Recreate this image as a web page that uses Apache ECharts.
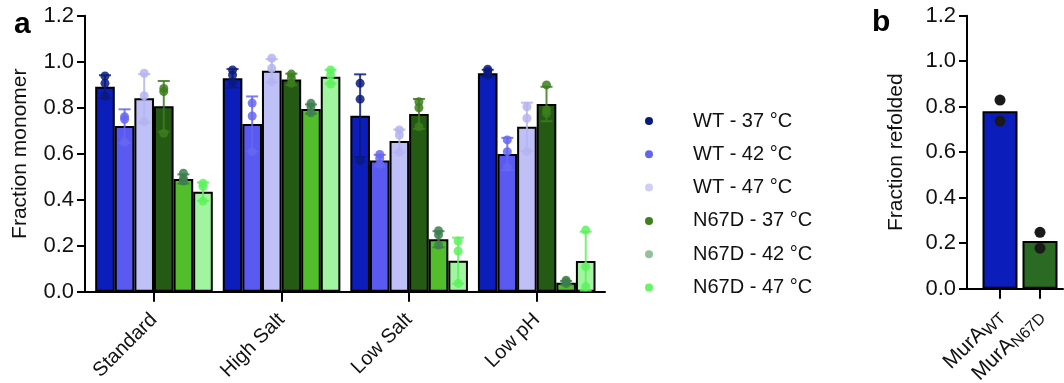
<!DOCTYPE html>
<html>
<head>
<meta charset="utf-8">
<script src="https://cdn.jsdelivr.net/npm/echarts@6/dist/echarts.min.js"></script>
<style>
  html, body { margin: 0; padding: 0; background: #fff; }
  #chart { width: 1064px; height: 383px; }
</style>
</head>
<body>
<div id="chart"></div>
<script>
// ---------------- Panel a data ----------------
const categoriesA = ['Standard', 'High Salt', 'Low Salt', 'Low pH'];
const seriesNames = ['WT - 37 °C', 'WT - 42 °C', 'WT - 47 °C', 'N67D - 37 °C', 'N67D - 42 °C', 'N67D - 47 °C'];
const yTicksA = [0, 0.2, 0.4, 0.6, 0.8, 1.0, 1.2];

// bar heights (mean fraction monomer)
const wt37Mean = [0.891, 0.928, 0.765, 0.950];
const wt42Mean = [0.720, 0.729, 0.570, 0.599];
const wt47Mean = [0.841, 0.961, 0.655, 0.717];
const n37Mean  = [0.806, 0.923, 0.773, 0.816];
const n42Mean  = [0.490, 0.794, 0.228, 0.039];
const n47Mean  = [0.435, 0.935, 0.135, 0.133];

// error bar half-lengths (SD)
const wt37Sd = [0.050, 0.040, 0.180, 0.015];
const wt42Sd = [0.073, 0.120, 0.025, 0.070];
const wt47Sd = [0.105, 0.050, 0.050, 0.105];
const n37Sd  = [0.110, 0.025, 0.065, 0.075];
const n42Sd  = [0.020, 0.020, 0.035, 0.008];
const n47Sd  = [0.040, 0.030, 0.100, 0.128];

// replicate points
const wt37Pts = [[0.938, 0.906, 0.851], [0.964, 0.942, 0.910], [0.906, 0.837, 0.570], [0.967, 0.957, 0.942]];
const wt42Pts = [[0.761, 0.750, 0.650], [0.820, 0.764, 0.609], [0.597, 0.580, 0.554], [0.660, 0.609, 0.541]];
const wt47Pts = [[0.950, 0.852, 0.739], [1.015, 0.971, 0.913], [0.703, 0.681, 0.606], [0.804, 0.754, 0.609]];
const n37Pts  = [[0.884, 0.870, 0.689], [0.946, 0.928, 0.906], [0.826, 0.800, 0.717], [0.899, 0.790, 0.776]];
const n42Pts  = [[0.515, 0.493, 0.481], [0.819, 0.804, 0.778], [0.265, 0.247, 0.203], [0.050, 0.043, 0.035]];
const n47Pts  = [[0.471, 0.457, 0.394], [0.964, 0.942, 0.903], [0.220, 0.177, 0.036], [0.268, 0.109, 0.022]];

// ---------------- Panel b data ----------------
const categoriesB = ['WT', 'N67D'];   // shown as MurA with subscript
const refoldMean = [0.780, 0.210];
const refoldPts = [[0.829, 0.737], [0.248, 0.178]];
const yTicksB = [0, 0.2, 0.4, 0.6, 0.8, 1.0, 1.2];

// ---------------- styles ----------------
const FONT = "'Liberation Sans', Arial, Helvetica, sans-serif";
const barColors = ['#0b1ebc', '#5a5af2', '#c0c0f8', '#245a14', '#52be2c', '#a2f5a0'];
const ptColors  = ['#0a1a7c', '#6666f2', '#b4b4f2', '#3c7c1c', '#3e7e4e', '#5cf25c'];
const legendColors = ['#0b1a7a', '#6464f0', '#cfcff5', '#3f7f1f', '#95bf9f', '#66f566'];
const BAR_W = 19.6;

const means = [wt37Mean, wt42Mean, wt47Mean, n37Mean, n42Mean, n47Mean];
const sds = [wt37Sd, wt42Sd, wt47Sd, n37Sd, n42Sd, n47Sd];
const pts = [wt37Pts, wt42Pts, wt47Pts, n37Pts, n42Pts, n47Pts];

const series = [];
seriesNames.forEach((name, s) => {
  series.push({
    name: name, type: 'bar', xAxisIndex: 0, yAxisIndex: 0,
    data: means[s], barWidth: BAR_W, barGap: '0%',
    itemStyle: { color: barColors[s], borderColor: '#000', borderWidth: 2 },
    z: 2, silent: true
  });
});
seriesNames.forEach((name, s) => {
  const data = categoriesA.map((c, i) => [i, means[s][i], sds[s][i]].concat(pts[s][i]));
  series.push({
    name: name, type: 'custom', xAxisIndex: 0, yAxisIndex: 0, z: 5, silent: true,
    data: data,
    encode: { x: 0, y: 1 },
    renderItem: function (params, api) {
      const i = api.value(0), m = api.value(1), sd = api.value(2);
      const c = api.coord([i, m]);
      const x = c[0] + (s - 2.5) * BAR_W;
      const yHi = api.coord([i, m + sd])[1];
      const yLo = api.coord([i, m - sd])[1];
      const col = ptColors[s];
      const ls = { stroke: col, lineWidth: 2, opacity: 0.85 };
      const children = [
        { type: 'line', shape: { x1: x, y1: yHi, x2: x, y2: yLo }, style: ls },
        { type: 'line', shape: { x1: x - 6, y1: yHi, x2: x + 6, y2: yHi }, style: ls },
        { type: 'line', shape: { x1: x - 6, y1: yLo, x2: x + 6, y2: yLo }, style: ls }
      ];
      for (let k = 3; k < 6; k++) {
        const py = api.coord([i, api.value(k)])[1];
        children.push({ type: 'circle', shape: { cx: x, cy: py, r: 4.5 }, style: { fill: col, opacity: 0.85 } });
      }
      return { type: 'group', children: children };
    }
  });
});

// panel b
series.push({
  name: 'refold', type: 'bar', xAxisIndex: 2, yAxisIndex: 2, data: refoldMean, barWidth: 35,
  itemStyle: { color: function (p) { return ['#0b1ebc', '#2b6a22'][p.dataIndex]; }, borderColor: '#000', borderWidth: 2 },
  silent: true, z: 2
});
const refoldScatter = [];
refoldPts.forEach((arr, i) => arr.forEach(v => refoldScatter.push([i, v])));
series.push({
  name: 'refoldPts', type: 'scatter', xAxisIndex: 2, yAxisIndex: 2, data: refoldScatter,
  symbolSize: 11, itemStyle: { color: '#1a1a1a', opacity: 1 }, silent: true, z: 5
});

const axisLineStyle = { color: '#000', width: 2 };
const labelStyle = { color: '#111', fontSize: 20, fontFamily: FONT };
const yLabelStyle = { color: '#111', fontSize: 22, fontFamily: FONT };

const option = {
  animation: false,
  backgroundColor: '#fff',
  textStyle: { fontFamily: FONT },
  title: [
    { text: 'a', left: 9, top: 5, textStyle: { fontSize: 30, fontWeight: 'bold', color: '#000', fontFamily: FONT } },
    { text: 'b', left: 867, top: 3, textStyle: { fontSize: 30, fontWeight: 'bold', color: '#000', fontFamily: FONT } }
  ],
  legend: {
    orient: 'vertical', left: 640, top: 106, itemWidth: 8, itemHeight: 8, itemGap: 13.3,
    icon: 'circle',
    textStyle: { color: '#111', fontSize: 20, fontFamily: FONT, lineHeight: 20, padding: [0, 0, 0, 35] },
    data: seriesNames.map((n, s) => ({ name: n, itemStyle: { color: legendColors[s], borderWidth: 0 } })),
    selectedMode: false
  },
  grid: [
    { left: 90.2, width: 510.3, top: 15.7, bottom: 91.3, outerBoundsMode: 'none', containLabel: false },
    { left: 85, right: 459, top: 15.7, bottom: 91.3, outerBoundsMode: 'none', containLabel: false },
    { left: 980, width: 80, top: 15.7, bottom: 94.3, outerBoundsMode: 'none', containLabel: false },
    { left: 967, right: 1, top: 15.7, bottom: 94.3, outerBoundsMode: 'none', containLabel: false }
  ],
  xAxis: [
    {
      type: 'category', gridIndex: 0, data: categoriesA,
      axisLine: { show: false },
      axisTick: { show: true, alignWithLabel: true, length: 10, lineStyle: axisLineStyle },
      axisLabel: Object.assign({ rotate: 45, margin: 25, interval: 0 }, labelStyle)
    },
    {
      type: 'value', gridIndex: 1, min: 0, max: 1,
      axisLine: { show: true, lineStyle: axisLineStyle }, axisTick: { show: false },
      axisLabel: { show: false }, splitLine: { show: false }
    },
    {
      type: 'category', gridIndex: 2, data: categoriesB,
      axisLine: { show: false },
      axisTick: { show: true, alignWithLabel: true, length: 10, lineStyle: axisLineStyle },
      axisLabel: {
        rotate: 45, margin: 24, interval: 0,
        formatter: function (v) { return '{a|MurA}{s|' + v + '}'; },
        rich: {
          a: { fontSize: 21, fontFamily: FONT, color: '#111' },
          s: { fontSize: 16, fontFamily: FONT, color: '#111', verticalAlign: 'bottom', padding: [9, 0, 0, 0] }
        }
      }
    },
    {
      type: 'value', gridIndex: 3, min: 0, max: 1,
      axisLine: { show: true, lineStyle: axisLineStyle }, axisTick: { show: false },
      axisLabel: { show: false }, splitLine: { show: false }
    }
  ],
  yAxis: [
    {
      type: 'value', gridIndex: 0, min: 0, max: 1.2, interval: 0.2, offset: 5.2,
      name: 'Fraction monomer', nameLocation: 'middle', nameGap: 54,
      nameTextStyle: { fontSize: 21, color: '#111', fontFamily: FONT },
      axisLine: { show: true, lineStyle: axisLineStyle },
      axisTick: { show: true, length: 8, lineStyle: axisLineStyle },
      axisLabel: Object.assign({ margin: 11, formatter: v => yTicksA.includes(Math.round(v * 10) / 10) ? v.toFixed(1) : '' }, yLabelStyle),
      splitLine: { show: false }
    },
    { type: 'value', gridIndex: 1, show: false, min: 0, max: 1 },
    {
      type: 'value', gridIndex: 2, min: 0, max: 1.2, interval: 0.2, offset: 13,
      name: 'Fraction refolded', nameLocation: 'middle', nameGap: 60,
      nameTextStyle: { fontSize: 21, color: '#111', fontFamily: FONT },
      axisLine: { show: true, lineStyle: axisLineStyle },
      axisTick: { show: true, length: 8, lineStyle: axisLineStyle },
      axisLabel: Object.assign({ margin: 11, formatter: v => yTicksB.includes(Math.round(v * 10) / 10) ? v.toFixed(1) : '' }, yLabelStyle),
      splitLine: { show: false }
    },
    { type: 'value', gridIndex: 3, show: false, min: 0, max: 1 }
  ],
  series: series
};

const chart = echarts.init(document.getElementById('chart'), null, { renderer: 'canvas' });
chart.setOption(option);
</script>
</body>
</html>
